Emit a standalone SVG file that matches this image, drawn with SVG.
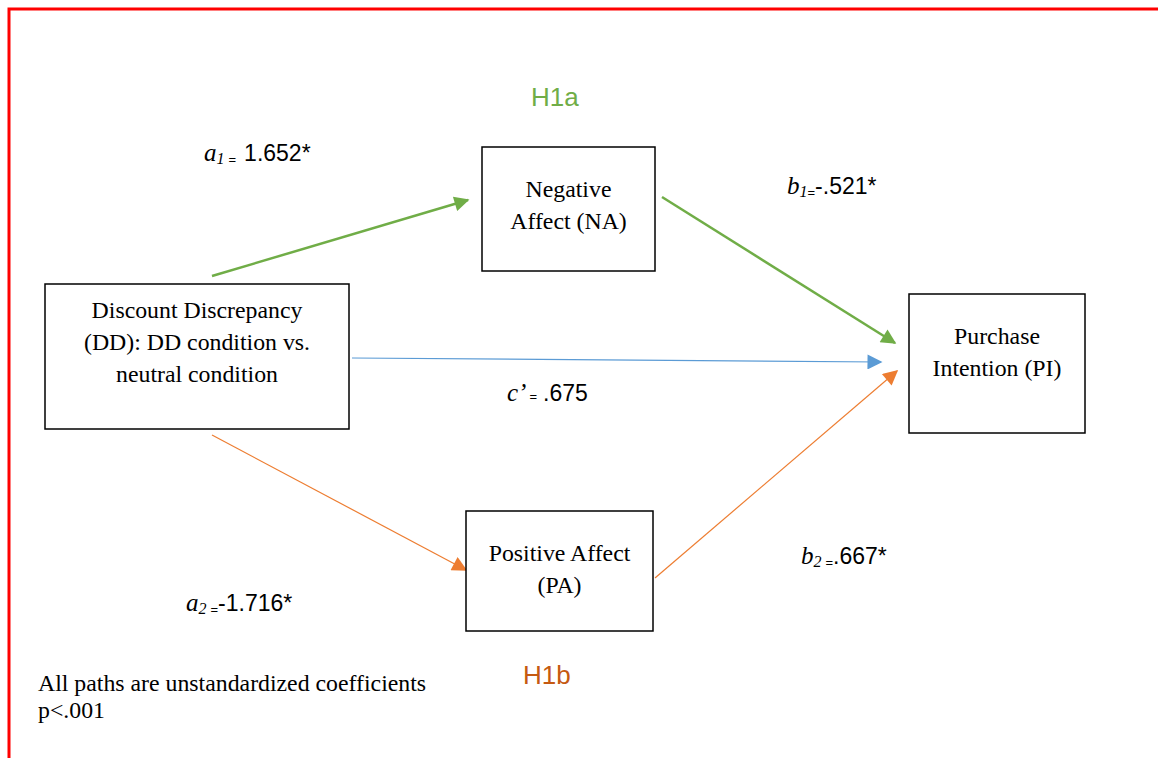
<svg xmlns="http://www.w3.org/2000/svg" width="1158" height="758" viewBox="0 0 1158 758">
<style>
.box{fill:#fff;stroke:#000;stroke-width:1.5}
.nt{font-family:"Liberation Serif",serif;font-size:23.8px;fill:#000;text-anchor:middle}
.lab{font-family:"Liberation Sans",sans-serif;font-size:23px;fill:#000}
.it{font-family:"Liberation Serif",serif;font-style:italic;font-size:25px}
.sub{font-family:"Liberation Serif",serif;font-style:italic;font-size:16px}
.eq{font-family:"Liberation Sans",sans-serif;font-size:13px}
.hyp{font-family:"Liberation Sans",sans-serif;font-size:26px}
</style>
<defs>
<marker id="mgb" viewBox="0 0 10 10" refX="9" refY="5" markerWidth="18" markerHeight="15" markerUnits="userSpaceOnUse" orient="auto"><path d="M0,0L10,5L0,10z" fill="#70AD47"/></marker>
<marker id="mb" viewBox="0 0 10 10" refX="9" refY="5" markerWidth="17" markerHeight="15" markerUnits="userSpaceOnUse" orient="auto"><path d="M0,0L10,5L0,10z" fill="#5B9BD5"/></marker>
<marker id="mo" viewBox="0 0 10 10" refX="9" refY="5" markerWidth="17" markerHeight="15" markerUnits="userSpaceOnUse" orient="auto"><path d="M0,0L10,5L0,10z" fill="#ED7D31"/></marker>
</defs>
<rect width="1158" height="758" fill="#fff"/>
<g id="frame" stroke="#FF0000" stroke-width="3" fill="none">
<path d="M9,758V9H1158"/>
</g>
<g id="connectors">
<line x1="212" y1="276" x2="468" y2="200" stroke="#70AD47" stroke-width="2.5" marker-end="url(#mgb)"/>
<line x1="662" y1="197" x2="895" y2="343" stroke="#70AD47" stroke-width="2.5" marker-end="url(#mgb)"/>
<line x1="352" y1="358" x2="881" y2="362" stroke="#5B9BD5" stroke-width="1.2" marker-end="url(#mb)"/>
<line x1="212" y1="435" x2="466" y2="570" stroke="#ED7D31" stroke-width="1.2" marker-end="url(#mo)"/>
<line x1="655" y1="578" x2="897" y2="371" stroke="#ED7D31" stroke-width="1.2" marker-end="url(#mo)"/>
</g>
<g id="node-na">
<rect class="box" x="482" y="147" width="173" height="124"/>
<text class="nt" x="568.5" y="197">Negative</text>
<text class="nt" x="568.5" y="229">Affect (NA)</text>
</g>
<g id="node-dd">
<rect class="box" x="45" y="284" width="304" height="145"/>
<text class="nt" x="197" y="318">Discount Discrepancy</text>
<text class="nt" x="197" y="350">(DD): DD condition vs.</text>
<text class="nt" x="197" y="382">neutral condition</text>
</g>
<g id="node-pi">
<rect class="box" x="909" y="294" width="176" height="139"/>
<text class="nt" x="997" y="344">Purchase</text>
<text class="nt" x="997" y="376">Intention (PI)</text>
</g>
<g id="node-pa">
<rect class="box" x="466" y="511" width="187" height="120"/>
<text class="nt" x="559.5" y="561">Positive Affect</text>
<text class="nt" x="559.5" y="593">(PA)</text>
</g>
<g id="labels">
<text class="hyp" x="531" y="106" fill="#70AD47">H1a</text>
<text class="hyp" x="523" y="684" fill="#C55A11">H1b</text>
<text x="204" y="161"><tspan class="it">a</tspan><tspan class="sub" dy="3">1</tspan><tspan class="eq" dx="4" dy="0">=</tspan><tspan class="lab" dx="8" dy="-3">1.652*</tspan></text>
<text x="787" y="194"><tspan class="it">b</tspan><tspan class="sub" dy="3">1</tspan><tspan class="eq">=</tspan><tspan class="lab" dy="-3">-.521*</tspan></text>
<text x="507" y="401"><tspan class="it">c’</tspan><tspan class="eq" dx="3">=</tspan><tspan class="lab" dx="6">.675</tspan></text>
<text x="186" y="611"><tspan class="it">a</tspan><tspan class="sub" dy="3">2</tspan><tspan class="eq" dx="4">=</tspan><tspan class="lab" dy="-3">-1.716*</tspan></text>
<text x="801" y="564"><tspan class="it">b</tspan><tspan class="sub" dy="3">2</tspan><tspan class="eq" dx="4">=</tspan><tspan class="lab" dy="-3">.667*</tspan></text>
<text x="38" y="691" font-family="Liberation Serif,serif" font-size="23.8" fill="#000">All paths are unstandardized coefficients</text>
<text x="38" y="718" font-family="Liberation Serif,serif" font-size="23.8" fill="#000">p&lt;.001</text>
</g>
</svg>
